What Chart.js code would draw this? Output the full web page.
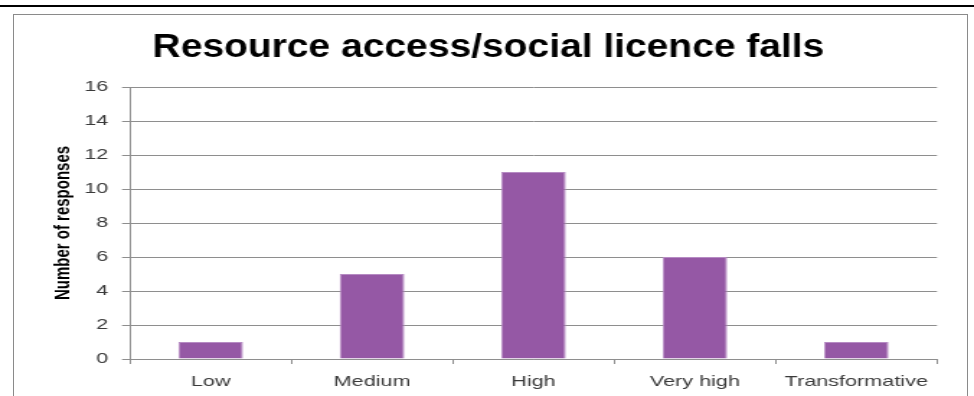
<!DOCTYPE html>
<html>
<head>
<meta charset="utf-8">
<title>Resource access/social licence falls</title>
<script src="https://cdn.jsdelivr.net/npm/chart.js@4.4.1/dist/chart.umd.min.js"></script>
<style>
  html, body { margin: 0; padding: 0; background: #fff; }
  #page { position: relative; width: 974px; height: 396px; overflow: hidden; }
  #rule { position: absolute; left: 0; top: 5px; width: 974px; height: 2px; background: #000; }
  #frame { position: absolute; left: 13px; top: 14px; width: 953px; height: 400px; border: 1px solid #8a8a8a; }
  /* the chart is laid out on a narrower canvas and widened, which gives the wide lettering */
  #chart { position: absolute; left: 0; top: 0; transform-origin: 0 0; }
</style>
</head>
<body>
<div id="page">
  <div id="rule"></div>
  <div id="frame"></div>
  <canvas id="chart" width="676" height="396"></canvas>
</div>
<script>
// Survey responses per impact level
const categories = ["Low", "Medium", "High", "Very high", "Transformative"];
const responses = [1, 5, 11, 6, 1];
const yTicks = [0, 2, 4, 6, 8, 10, 12, 14, 16];
const chartTitle = "Resource access/social licence falls";
const yTitle = "Number of responses";

const gridGrey = "#8e8e8e";
const labelColor = "#3a3a3a";
const arial = "'Liberation Sans', Arial, sans-serif";

const canvas = document.getElementById("chart");
const stretch = 974 / canvas.width;
canvas.style.width = canvas.width + "px";
canvas.style.height = canvas.height + "px";
canvas.style.transform = `scaleX(${stretch})`;

// Title drawn in a narrow bold face above the plot
const narrowTitle = {
    id: "narrowTitle",
    afterDraw(chart) {
        const c = chart.ctx;
        c.save();
        c.font = "bold 33px 'Liberation Sans', Arial, sans-serif";
        c.fillStyle = "#000";
        c.textAlign = "center";
        c.textBaseline = "alphabetic";
        c.translate(chart.width / 2 + 1, 57);
        c.scale(0.82, 1);
        c.fillText(chartTitle, 0, 0);
        c.restore();
    }
};

new Chart(canvas.getContext("2d"), {
    type: "bar",
    data: {
        labels: categories,
        datasets: [{
            data: responses,
            backgroundColor: "#9558a5",
            borderColor: "#b68bc3",
            borderWidth: 1,
            categoryPercentage: 1,
            barPercentage: 0.4
        }]
    },
    plugins: [narrowTitle],
    options: {
        responsive: false,
        animation: false,
        layout: { padding: { left: 27.7, right: 25.7, top: 87, bottom: 0 } },
        plugins: {
            legend: { display: false },
            tooltip: { enabled: false },
            title: { display: false }
        },
        scales: {
            x: {
                offset: true,
                grid: {
                    offset: true,
                    drawOnChartArea: false,
                    drawTicks: true,
                    tickLength: 5,
                    color: gridGrey
                },
                border: { color: gridGrey, width: 1 },
                ticks: {
                    color: labelColor,
                    font: { family: arial, size: 15 },
                    padding: 9,
                    maxRotation: 0,
                    autoSkip: false
                },
                afterFit: (scale) => { scale.height = 37; }
            },
            y: {
                min: 0,
                max: 16,
                afterBuildTicks: (scale) => { scale.ticks = yTicks.map(v => ({ value: v })); },
                grid: { color: gridGrey, tickLength: 5.5 },
                border: { color: gridGrey, width: 1 },
                ticks: {
                    color: labelColor,
                    font: { family: arial, size: 15 },
                    padding: 9.6
                },
                title: {
                    display: true,
                    text: yTitle,
                    color: "#000",
                    font: { family: arial, size: 15, weight: "bold" },
                    padding: { top: 7, bottom: 0 }
                },
                afterFit: (scale) => { scale.width = 62.5; }
            }
        }
    }
});
</script>
</body>
</html>
